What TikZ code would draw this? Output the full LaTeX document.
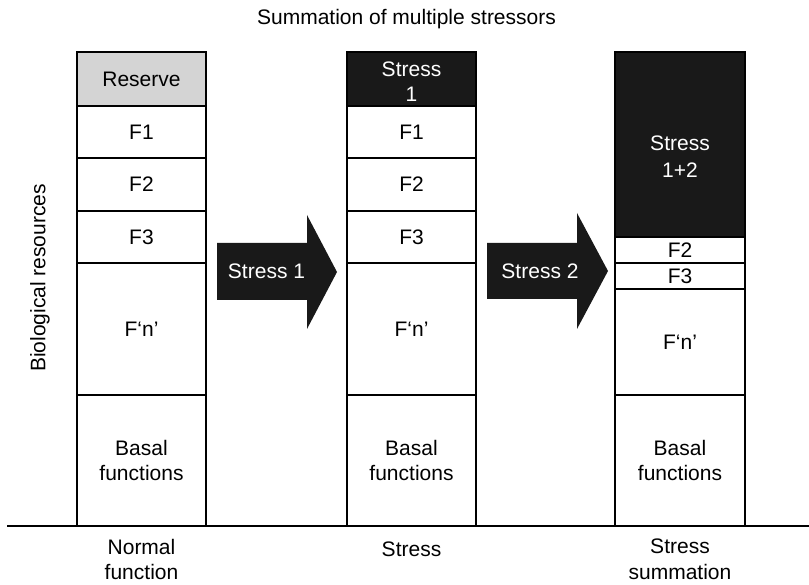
\documentclass[tikz,border=0pt]{standalone}
\usepackage{fontspec}
\setmainfont{Liberation Sans}
\begin{document}
\begin{tikzpicture}[x=1pt,y=-1pt,
  txt/.style={font=\fontsize{21}{25.5}\selectfont, align=center, inner sep=0pt},
  cell/.style={txt, draw=black, line width=1.8pt, minimum width=129pt},
  reserve/.style={cell, fill=black!17},
  stressbox/.style={cell, fill=black!90},
  whitetxt/.style={txt, text=white},
  bigarrow/.style={fill=black!90}]
\useasboundingbox (0,0) rectangle (809,585);

% title and axis label
\node[txt, anchor=base] (title) at (406.5,25) {Summation of multiple stressors};
\node[txt, rotate=90] (axis) at (40,278) {Biological resources};

% ground line
\draw[line width=1.8pt] (7,526) coordinate (g0) -- (809,526) coordinate (g1);

% normal function column
\node[reserve, minimum height=54pt] (n0) at (141.5,79) {Reserve};
\node[cell, minimum height=52pt] (n1) at (141.5,132) {F1};
\node[cell, minimum height=53pt] (n2) at (141.5,184.5) {F2};
\node[cell, minimum height=52pt] (n3) at (141.5,237) {F3};
\node[cell, minimum height=132pt] (n4) at (141.5,329) {F‘n’};
\node[cell, minimum height=131pt] (n5) at (141.5,460.5) {Basal\\functions};

% stress column
\node[stressbox, minimum height=54pt] (s0) at (411.5,79) {};
\node[whitetxt] (s0t) at (411.5,81.5) {Stress\\1};
\node[cell, minimum height=52pt] (s1) at (411.5,132) {F1};
\node[cell, minimum height=53pt] (s2) at (411.5,184.5) {F2};
\node[cell, minimum height=52pt] (s3) at (411.5,237) {F3};
\node[cell, minimum height=132pt] (s4) at (411.5,329) {F‘n’};
\node[cell, minimum height=131pt] (s5) at (411.5,460.5) {Basal\\functions};

% stress summation column
\node[stressbox, minimum width=130pt, minimum height=185pt] (t0) at (680,144.5) {};
\node[whitetxt, font=\fontsize{21}{27}\selectfont] (t0t) at (680,156.5) {Stress\\1+2};
\node[cell, minimum width=130pt, minimum height=26pt] (t2) at (680,250) {F2};
\node[cell, minimum width=130pt, minimum height=26pt] (t3) at (680,276) {F3};
\node[cell, minimum width=130pt, minimum height=106pt] (t4) at (680,342) {F‘n’};
\node[cell, minimum width=130pt, minimum height=131pt] (t5) at (680,460.5) {Basal\\functions};

% block arrows between the columns
\fill[bigarrow] (217,243) -- (307,243) -- (307,215) -- (337,272) -- (307,329)
  -- (307,300) -- (217,300) -- cycle;
\node[whitetxt] (a1) at (266.5,271.5) {Stress 1};
\fill[bigarrow] (487,243) -- (577,243) -- (577,213) -- (608,271) -- (577,329)
  -- (577,299) -- (487,299) -- cycle;
\node[whitetxt] (a2) at (540,271) {Stress 2};

% column captions
\node[txt] (c1) at (141.5,559.5) {Normal\\function};
\node[txt] (c2) at (411.5,549) {Stress};
\node[txt] (c3) at (680,559.5) {Stress\\summation};
\end{tikzpicture}
\end{document}
